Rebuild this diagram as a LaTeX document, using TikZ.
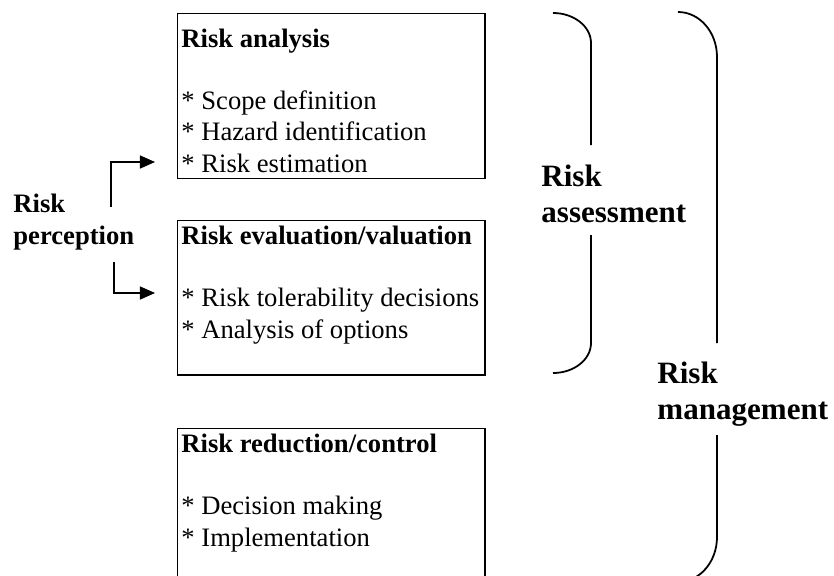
\documentclass[tikz,border=0pt]{standalone}
\usepackage{fontspec}
\setmainfont{Liberation Serif}
\usetikzlibrary{arrows.meta}

\begin{document}
\begin{tikzpicture}[x=0.451pt,y=-0.451pt,
   stage/.style={draw,line width=0.65pt,minimum width=138.5pt,anchor=north west,inner sep=0pt},
   stagetext/.style={anchor=base west,align=left,inner sep=0pt,font=\fontsize{12}{14}\selectfont},
   sidelabel/.style={anchor=base west,align=left,inner sep=0pt,font=\fontsize{14}{16.2}\selectfont\bfseries},
   feed/.style={line width=0.55pt,-{Triangle[length=6.8pt,width=5.9pt]}},
   brace/.style={line width=0.8pt}]
\clip (0,0) rectangle (834,575);
\node[stage,minimum height=74.4pt] (analysis) at (177,13) {};
\node[stage,minimum height=69.5pt] (evaluation) at (177,220) {};
\node[stage,minimum height=78pt] (reduction) at (177,428) {};
\node[stagetext] (analysis text) at (181,172)
  {\textbf{Risk analysis}\\[14pt]* Scope definition\\* Hazard identification\\* Risk estimation};
\node[stagetext] (evaluation text) at (181,338)
  {\textbf{Risk evaluation/valuation}\\[14pt]* Risk tolerability decisions\\* Analysis of options};
\node[stagetext] (reduction text) at (181,546)
  {\textbf{Risk reduction/control}\\[14pt]* Decision making\\* Implementation};
\node[stagetext,font=\fontsize{12}{14}\selectfont\bfseries] (perception) at (13,244) {Risk\\perception};
\coordinate (feed up) at (111,207);
\coordinate (feed up end) at (155,162);
\coordinate (feed down) at (114,262);
\coordinate (feed down end) at (155,293);
\draw[feed] (feed up) |- (feed up end);
\draw[feed] (feed down) |- (feed down end);
\node[sidelabel] (assessment) at (541,222) {Risk\\assessment};
\node[sidelabel] (management) at (657,419) {Risk\\management};
\draw[brace] (553,13) .. controls +(21,0) and +(0,-16.5) .. (591,43) -- (591,145);
\draw[brace] (591,235) -- (591,343) .. controls +(0,16.5) and +(21,0) .. (553,373);
\draw[brace] (678,12) .. controls +(21.5,0) and +(0,-25) .. (717,57) -- (717,343);
\draw[brace] (717,435) -- (717,537) .. controls +(0,25) and +(21.5,0) .. (678,582);
\end{tikzpicture}
\end{document}
